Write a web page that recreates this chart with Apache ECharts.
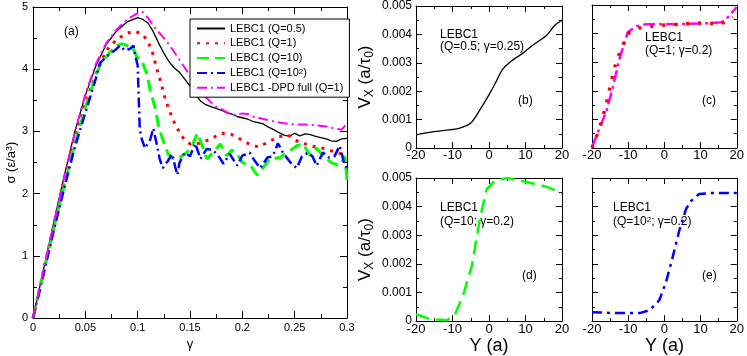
<!DOCTYPE html>
<html>
<head>
<meta charset="utf-8">
<script src="https://cdn.jsdelivr.net/npm/echarts@6/dist/echarts.min.js"></script>
<style>html,body{margin:0;padding:0;background:#fff}#main{width:747px;height:356px}</style>
</head>
<body>
<div id="main"></div>
<script>
// tick values for each axis
var gammaTicks = [0, 0.05, 0.1, 0.15, 0.2, 0.25, 0.3];
var sigmaTicks = [0, 1, 2, 3, 4, 5];
var yPosTicks = [-20, -10, 0, 10, 20];
var vxTicks = [0, 0.001, 0.002, 0.003, 0.004, 0.005];

var legendNames = ['LEBC1 (Q=0.5)', 'LEBC1 (Q=1)', 'LEBC1 (Q=10)', 'LEBC1 (Q=10^2)', 'LEBC1 -DPD full (Q=1)'];

// panel (a): stress vs strain, [gamma, sigma]
var stressQ05 = [[0,0],[0.01,0.78],[0.02,1.55],[0.03,2.3],[0.04,3.0],[0.05,3.58],[0.06,4.05],[0.07,4.4],[0.08,4.62],[0.09,4.76],[0.1,4.83],[0.105,4.8],[0.11,4.74],[0.115,4.6],[0.12,4.42],[0.125,4.26],[0.13,4.12],[0.135,4.02],[0.14,3.95],[0.145,3.84],[0.15,3.73],[0.155,3.6],[0.16,3.49],[0.165,3.43],[0.17,3.4],[0.175,3.37],[0.18,3.34],[0.185,3.3],[0.19,3.28],[0.195,3.24],[0.2,3.22],[0.205,3.2],[0.21,3.16],[0.215,3.14],[0.22,3.12],[0.225,3.07],[0.23,3.03],[0.235,2.98],[0.24,2.94],[0.245,2.92],[0.25,2.97],[0.255,2.93],[0.26,2.96],[0.265,2.95],[0.27,2.92],[0.275,2.9],[0.28,2.88],[0.285,2.85],[0.29,2.84],[0.295,2.88],[0.3,2.89]];
var stressQ1 = [[0,0],[0.01,0.76],[0.02,1.5],[0.03,2.24],[0.04,2.9],[0.05,3.45],[0.06,3.92],[0.07,4.3],[0.08,4.48],[0.09,4.58],[0.097,4.61],[0.105,4.56],[0.11,4.44],[0.114,4.28],[0.118,4.02],[0.122,3.8],[0.126,3.55],[0.13,3.35],[0.135,3.14],[0.14,2.98],[0.145,2.86],[0.15,2.8],[0.16,2.81],[0.17,2.88],[0.18,2.97],[0.19,2.95],[0.2,2.86],[0.205,2.81],[0.215,2.75],[0.225,2.83],[0.235,2.92],[0.245,2.93],[0.25,2.86],[0.26,2.8],[0.27,2.75],[0.28,2.72],[0.29,2.66],[0.3,2.62]];
var stressQ10 = [[0,0],[0.01,0.72],[0.02,1.45],[0.03,2.15],[0.04,2.8],[0.05,3.38],[0.06,3.9],[0.065,4.1],[0.07,4.2],[0.075,4.3],[0.08,4.38],[0.085,4.41],[0.09,4.38],[0.095,4.36],[0.099,4.2],[0.104,4.14],[0.109,3.91],[0.112,3.66],[0.117,3.36],[0.12,3.08],[0.124,2.87],[0.129,2.64],[0.134,2.56],[0.14,2.58],[0.147,2.66],[0.152,2.77],[0.157,2.97],[0.161,2.8],[0.166,2.56],[0.172,2.66],[0.179,2.8],[0.185,2.61],[0.19,2.7],[0.195,2.64],[0.2,2.5],[0.208,2.45],[0.214,2.3],[0.22,2.42],[0.226,2.56],[0.236,2.58],[0.243,2.66],[0.252,2.77],[0.258,2.8],[0.265,2.61],[0.271,2.73],[0.277,2.61],[0.285,2.5],[0.293,2.45],[0.298,2.6],[0.3,2.22]];
var stressQ100 = [[0,0],[0.01,0.7],[0.02,1.42],[0.03,2.1],[0.04,2.75],[0.05,3.3],[0.06,3.85],[0.064,4.1],[0.07,4.2],[0.074,4.25],[0.08,4.33],[0.083,4.38],[0.088,4.3],[0.093,4.33],[0.096,4.38],[0.098,4.2],[0.1,4.06],[0.101,3.55],[0.102,3.03],[0.104,2.87],[0.107,2.73],[0.112,2.87],[0.115,3.05],[0.118,2.81],[0.121,2.56],[0.124,2.41],[0.129,2.53],[0.133,2.64],[0.136,2.42],[0.138,2.3],[0.14,2.5],[0.145,2.66],[0.15,2.6],[0.155,2.81],[0.16,2.56],[0.166,2.72],[0.172,2.7],[0.177,2.61],[0.182,2.48],[0.188,2.64],[0.195,2.45],[0.2,2.61],[0.207,2.66],[0.211,2.55],[0.217,2.41],[0.224,2.58],[0.229,2.6],[0.234,2.81],[0.239,2.65],[0.246,2.5],[0.252,2.41],[0.257,2.6],[0.263,2.66],[0.267,2.6],[0.271,2.45],[0.277,2.66],[0.283,2.58],[0.288,2.6],[0.293,2.77],[0.298,2.45],[0.3,2.41]];
var stressDPD = [[0,0],[0.01,0.76],[0.02,1.52],[0.03,2.27],[0.04,2.98],[0.05,3.6],[0.06,4.08],[0.07,4.42],[0.08,4.64],[0.09,4.8],[0.1,4.9],[0.104,4.93],[0.11,4.82],[0.115,4.7],[0.12,4.6],[0.125,4.5],[0.13,4.4],[0.14,4.15],[0.15,3.9],[0.16,3.66],[0.165,3.55],[0.17,3.47],[0.175,3.4],[0.18,3.36],[0.185,3.31],[0.19,3.27],[0.195,3.27],[0.2,3.29],[0.205,3.28],[0.21,3.24],[0.22,3.2],[0.23,3.16],[0.24,3.13],[0.25,3.11],[0.26,3.11],[0.27,3.1],[0.28,3.08],[0.29,3.04],[0.295,3.03],[0.3,3.13]];

// panels (b)-(e): velocity profiles, [Y, Vx]
var profQ05 = [[-20,0.00046],[-16,0.00056],[-12,0.00062],[-8,0.0007],[-5,0.00088],[-2.5,0.00134],[0.3,0.00194],[2.2,0.0024],[3.6,0.00275],[5.8,0.00303],[9.3,0.00334],[12.1,0.00363],[15.9,0.00398],[18.1,0.00433],[20,0.0045]];
var profQ1 = [[-20,0],[-18.6,0.00046],[-17.5,0.00088],[-16.4,0.00137],[-15.6,0.0018],[-14.8,0.00225],[-14,0.00271],[-12.9,0.00317],[-10.1,0.004],[-6.8,0.0042],[-3.3,0.00426],[0.5,0.0043],[4.6,0.00433],[8.2,0.00437],[11.8,0.00437],[15.6,0.00433],[18.9,0.00458]];
var profQ1dpd = [[-20,0.00003],[-15.9,0.00134],[-14.2,0.00215],[-12.3,0.00317],[-10.1,0.00405],[-7.7,0.00426],[-4.9,0.00433],[4.1,0.00433],[13.2,0.00437],[15.9,0.0044],[17.8,0.0046],[20,0.00493]];
var profQ10 = [[-20,0.00024],[-16.2,0.00007],[-11.5,0.00003],[-9.3,0.00024],[-7.1,0.0009],[-4.7,0.00194],[-2.5,0.00358],[-0.6,0.00462],[1.6,0.0049],[4.9,0.005],[10.4,0.00486],[15.9,0.00469],[20,0.00448]];
var profQ100 = [[-20,0.00031],[-14,0.00028],[-6.8,0.00028],[-4.1,0.00038],[-1.4,0.00073],[0.5,0.00139],[2.2,0.00219],[4.1,0.00316],[6,0.00392],[7.4,0.0042],[9.6,0.00444],[13.2,0.00448],[20,0.00448]];

var font = "'Liberation Sans', Arial, sans-serif";
var supRich = { sup: { fontSize: 8, verticalAlign: 'top', lineHeight: 8, fontFamily: font, color: '#000' } };

function makeAxis(gi, ticks, pos, o) {
  var main = (pos === 'bottom' || pos === 'left');
  return {
    type: 'value', gridIndex: gi, position: pos,
    min: ticks[0], max: ticks[ticks.length - 1], interval: ticks[1] - ticks[0],
    axisLine: { show: true, onZero: false, lineStyle: { color: '#000', width: 1 } },
    axisTick: { show: true, inside: true, length: o.tick, lineStyle: { color: '#000' } },
    minorTick: { show: true, splitNumber: 2, length: o.minor, lineStyle: { color: '#000' } },
    splitLine: { show: false },
    axisLabel: { show: main && !o.noLabels, fontSize: o.fs, color: '#000', fontFamily: font, margin: o.margin },
    name: main && o.name ? o.name : '',
    nameLocation: 'middle',
    nameGap: o.nameGap,
    nameTextStyle: { fontSize: o.nameFs, color: '#000', fontFamily: font, rich: o.rich }
  };
}

var subRich = {
  sub: { fontSize: 12, verticalAlign: 'bottom', lineHeight: 12, fontFamily: font, color: '#000', padding: [0, 0, 0, 0] },
  base: { fontSize: 17, lineHeight: 22, fontFamily: font, color: '#000' }
};
var vxName = '{base|V}{sub|X}{base| (a/τ}{sub|0}{base|)}';
var sigRich = { sup: { fontSize: 9, verticalAlign: 'top', lineHeight: 9, fontFamily: font, color: '#000' } };

var xAxes = [
  makeAxis(0, gammaTicks, 'bottom', { tick: 7, minor: 4, fs: 11, margin: 4, name: 'γ', nameGap: 13, nameFs: 13 }),
  makeAxis(0, gammaTicks, 'top', { tick: 7, minor: 4 }),
  makeAxis(1, yPosTicks, 'bottom', { tick: 6, minor: 3, fs: 13, margin: 1 }),
  makeAxis(1, yPosTicks, 'top', { tick: 6, minor: 3 }),
  makeAxis(2, yPosTicks, 'bottom', { tick: 6, minor: 3, fs: 13, margin: 1 }),
  makeAxis(2, yPosTicks, 'top', { tick: 6, minor: 3 }),
  makeAxis(3, yPosTicks, 'bottom', { tick: 6, minor: 3, fs: 13, margin: 2, name: 'Y (a)', nameGap: 13, nameFs: 18 }),
  makeAxis(3, yPosTicks, 'top', { tick: 6, minor: 3 }),
  makeAxis(4, yPosTicks, 'bottom', { tick: 6, minor: 3, fs: 13, margin: 2, name: 'Y (a)', nameGap: 13, nameFs: 18 }),
  makeAxis(4, yPosTicks, 'top', { tick: 6, minor: 3 })
];
var yAxes = [
  makeAxis(0, sigmaTicks, 'left', { tick: 7, minor: 4, fs: 11, margin: 5, name: 'σ (ε/a{sup|3})', nameGap: 14, nameFs: 13, rich: sigRich }),
  makeAxis(0, sigmaTicks, 'right', { tick: 7, minor: 4 }),
  makeAxis(1, vxTicks, 'left', { tick: 6, minor: 3, fs: 12, margin: 4, name: vxName, nameGap: 40, nameFs: 17, rich: subRich }),
  makeAxis(1, vxTicks, 'right', { tick: 6, minor: 3 }),
  makeAxis(2, vxTicks, 'left', { tick: 6, minor: 3, noLabels: true }),
  makeAxis(2, vxTicks, 'right', { tick: 6, minor: 3 }),
  makeAxis(3, vxTicks, 'left', { tick: 6, minor: 3, fs: 12, margin: 4, name: vxName, nameGap: 40, nameFs: 17, rich: subRich }),
  makeAxis(3, vxTicks, 'right', { tick: 6, minor: 3 }),
  makeAxis(4, vxTicks, 'left', { tick: 6, minor: 3, noLabels: true }),
  makeAxis(4, vxTicks, 'right', { tick: 6, minor: 3 })
];

function line(name, data, xi, yi, color, width, type, smooth) {
  return {
    name: name, type: 'line', data: data, xAxisIndex: xi, yAxisIndex: yi,
    symbol: 'none', showSymbol: false, smooth: smooth || false,
    lineStyle: { color: color, width: width, type: type, cap: 'butt' },
    itemStyle: { color: color },
    emphasis: { disabled: true }
  };
}

var dotted = [3, 6];
var dashed = [12, 6];
var dashDot = [10, 4, 2, 4];

function txt(x, y, text, size) {
  return { type: 'text', left: x, top: y, style: { text: text, fontSize: size || 12, fontFamily: font, fill: '#000', rich: supRich } };
}

var chart = echarts.init(document.getElementById('main'), null, { renderer: 'canvas' });
chart.setOption({
  animation: false,
  backgroundColor: '#fff',
  grid: [
    { left: 33, top: 7, width: 314, height: 320 },
    { left: 416, top: 5, width: 146, height: 143 },
    { left: 592, top: 5, width: 146, height: 143 },
    { left: 416, top: 178, width: 146, height: 145 },
    { left: 592, top: 178, width: 146, height: 145 }
  ],
  xAxis: xAxes,
  yAxis: yAxes,
  legend: {
    data: legendNames,
    left: 190, top: 19, orient: 'vertical',
    backgroundColor: '#fff', borderColor: '#000', borderWidth: 1, borderRadius: 0,
    padding: [4, 6, 4, 6], itemWidth: 28, itemHeight: 12, itemGap: 3.8,
    selectedMode: false,
    itemStyle: { opacity: 0, color: 'rgba(0,0,0,0)', borderWidth: 0 },
    textStyle: { fontSize: 11, fontFamily: font, color: '#000', rich: supRich },
    formatter: function (n) { return n.replace('10^2', '10{sup|2}'); }
  },
  series: [
    line(legendNames[0], stressQ05, 0, 0, '#000000', 1.3, 'solid'),
    line(legendNames[1], stressQ1, 0, 0, '#ff0000', 3, dotted),
    line(legendNames[2], stressQ10, 0, 0, '#00ff00', 3, dashed),
    line(legendNames[3], stressQ100, 0, 0, '#0000ff', 2.5, dashDot),
    line(legendNames[4], stressDPD, 0, 0, '#ff00ff', 2, dashDot),
    line('b Q=0.5', profQ05, 2, 2, '#000000', 1.3, 'solid', 0.3),
    line('c DPD', profQ1dpd, 4, 4, '#ff00ff', 2.5, [12, 4, 3, 4]),
    line('c Q=1', profQ1, 4, 4, '#ff0000', 3.5, [3, 9]),
    line('d Q=10', profQ10, 6, 6, '#00ff00', 2.5, [14, 7]),
    line('e Q=100', profQ100, 8, 8, '#0000ff', 2.5, [10, 5, 3, 5])
  ],
  graphic: [
    txt(64, 26, '(a)', 12),
    txt(440, 29, 'LEBC1', 12),
    txt(440, 41, '(Q=0.5; γ=0.25)', 12),
    txt(518, 95, '(b)', 12),
    txt(645, 32, 'LEBC1', 12),
    txt(645, 45, '(Q=1; γ=0.2)', 12),
    txt(702, 95, '(c)', 12),
    txt(440, 202, 'LEBC1', 12),
    txt(440, 216, '(Q=10; γ=0.2)', 12),
    txt(522, 270, '(d)', 12),
    txt(613, 202, 'LEBC1', 12),
    txt(613, 216, '(Q=10{sup|2}; γ=0.2)', 12),
    txt(702, 270, '(e)', 12)
  ]
});
</script>
</body>
</html>
